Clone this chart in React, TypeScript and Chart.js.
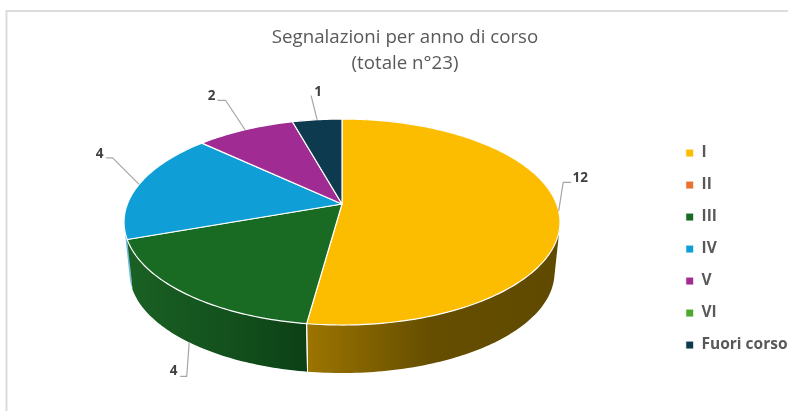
import React, { useEffect, useRef } from "react";
import { Chart, registerables } from "chart.js";

Chart.register(...registerables);

const categories = ["I", "II", "III", "IV", "V", "VI", "Fuori corso"];
const segnalazioni = [12, 0, 4, 4, 2, 0, 1];
const titleLines = ["Segnalazioni per anno di corso", "(totale n°23)"];
const colors = ["#FCBD00", "#E97132", "#196B24", "#0F9ED5", "#A02B93", "#4EA72E", "#0D3A4E"];
const wallLeft = ["#9C7400", "#8A4020", "#1A6024", "#6FB9DC", "#6A1C60", "#2E6A1A", "#082430"];
const wallMid = ["#654E00", "#8A4020", "#124F1C", "#6FB9DC", "#6A1C60", "#2E6A1A", "#082430"];
const wallRight = ["#604A00", "#8A4020", "#0C4016", "#6FB9DC", "#6A1C60", "#2E6A1A", "#082430"];
// label placement relative to the slice's mid-rim anchor: elbow, line end, text centre
const labelOffsets: Record<number, number[]> = {
  0: [4.5, -28.5, 12.5, -28.5, 21.5, -32.5],
  2: [-2.5, 34, -9, 34, -15.5, 29],
  3: [-26.5, -26.5, -33, -26.5, -39.5, -30.5],
  4: [-19.5, -29.5, -27.5, -29.5, -33.5, -33.5],
  6: [-6, -24, -6, -24, 1, -28],
};

// perspective view of the disc
const VIEW = { cx: 342, apexTop: 204, a: 214.6, b: 99.85, k: 0.175, apexBottom: 255, shrink: 0.975 };

const project = (angle: number, bottom: boolean) => {
  const u = Math.cos(angle);
  const v = Math.sin(angle);
  const w = 1 - VIEW.k * v;
  const s = bottom ? VIEW.shrink : 1;
  return {
    x: VIEW.cx + (s * VIEW.a * u) / w,
    y: (bottom ? VIEW.apexBottom : VIEW.apexTop) + (s * VIEW.b * v) / w,
    v,
  };
};

const rim = (a0: number, a1: number, bottom: boolean) => {
  const n = Math.max(2, Math.ceil(((a1 - a0) * 180) / Math.PI));
  const pts = [];
  for (let i = 0; i <= n; i++) pts.push(project(a0 + ((a1 - a0) * i) / n, bottom));
  return pts;
};

const pie3d = {
  id: "pie3d",
  beforeDraw(chart: any) {
    const { ctx, width } = chart;
    ctx.save();
    ctx.strokeStyle = "#DCDCDC";
    ctx.lineWidth = 2;
    ctx.beginPath();
    ctx.moveTo(width - 2, 11);
    ctx.lineTo(6.5, 11);
    ctx.lineTo(6.5, chart.height);
    ctx.stroke();
    ctx.restore();
  },
  beforeDatasetsDraw(chart: any) {
    const { ctx } = chart;
    const arcs = chart
      .getDatasetMeta(0)
      .data.map((arc: any, i: number) => ({ i, a0: arc.startAngle, a1: arc.endAngle }))
      .filter((s: any) => s.a1 - s.a0 > 1e-6);
    ctx.save();
    ctx.lineJoin = "round";

    // side walls, far slices first
    const order = [...arcs].sort(
      (p: any, q: any) => Math.sin((p.a0 + p.a1) / 2) - Math.sin((q.a0 + q.a1) / 2),
    );
    for (const s of order) {
      const top = rim(s.a0, s.a1, false);
      const bot = rim(s.a0, s.a1, true);
      const near = bot.filter((p) => p.v > -0.2);
      if (!near.length) continue;
      const xs = near.map((p) => p.x);
      const g = ctx.createLinearGradient(Math.min(...xs), 0, Math.max(...xs), 0);
      g.addColorStop(0, wallLeft[s.i]);
      g.addColorStop(s.i === 2 ? 0.6 : 0.5, wallMid[s.i]);
      g.addColorStop(1, wallRight[s.i]);
      ctx.beginPath();
      for (let j = 0; j < top.length - 1; j++) {
        const q = [top[j], top[j + 1], bot[j + 1], bot[j]];
        let area = 0;
        q.forEach((p, m) => {
          const r = q[(m + 1) % 4];
          area += p.x * r.y - r.x * p.y;
        });
        if (area < 0) q.reverse();
        ctx.moveTo(q[0].x, q[0].y);
        q.slice(1).forEach((p) => ctx.lineTo(p.x, p.y));
        ctx.closePath();
      }
      ctx.fillStyle = g;
      ctx.fill();
    }

    // white seams on the wall
    ctx.strokeStyle = "#FFFFFF";
    ctx.lineWidth = 1;
    for (const s of arcs) {
      for (const edge of [s.a0, s.a1]) {
        const t = project(edge, false);
        if (t.v < 0.5) continue;
        const b = project(edge, true);
        ctx.beginPath();
        ctx.moveTo(t.x, t.y);
        ctx.lineTo(b.x, b.y);
        ctx.stroke();
      }
    }

    // top faces
    for (const s of arcs) {
      ctx.beginPath();
      ctx.moveTo(VIEW.cx, VIEW.apexTop);
      rim(s.a0, s.a1, false).forEach((p) => ctx.lineTo(p.x, p.y));
      ctx.closePath();
      ctx.fillStyle = colors[s.i];
      ctx.fill();
      ctx.strokeStyle = "#FFFFFF";
      ctx.lineWidth = 1.2;
      ctx.stroke();
    }

    // data labels and leader lines
    ctx.font = "bold 13.5px 'Open Sans'";
    ctx.textAlign = "center";
    ctx.textBaseline = "middle";
    for (const s of arcs) {
      const mid = (s.a0 + s.a1) / 2;
      const midV = Math.sin(mid);
      const anchor = project(mid, midV > 0.3);
      const o = labelOffsets[s.i];
      ctx.strokeStyle = "#A6A6A6";
      ctx.lineWidth = 1.2;
      ctx.beginPath();
      ctx.moveTo(anchor.x, anchor.y);
      ctx.lineTo(anchor.x + o[0], anchor.y + o[1]);
      ctx.lineTo(anchor.x + o[2], anchor.y + o[3]);
      ctx.stroke();
      ctx.fillStyle = "#404040";
      ctx.fillText(String(segnalazioni[s.i]), anchor.x + o[4], anchor.y + o[5]);
    }
    ctx.restore();
    return false;
  },
};

export default function App() {
  const ref = useRef<HTMLCanvasElement>(null);
  useEffect(() => {
    const chart = new Chart(ref.current as HTMLCanvasElement, {
      type: "pie",
      data: {
        labels: categories,
        datasets: [{ data: segnalazioni, backgroundColor: colors, borderColor: "#FFFFFF", borderWidth: 1 }],
      },
      plugins: [pie3d],
      options: {
        responsive: false,
        animation: false,
        layout: { padding: { left: 12.5, right: -7.5, top: 0, bottom: 0 } },
        plugins: {
          tooltip: { enabled: false },
          title: {
            display: true,
            text: titleLines,
            color: "#595959",
            font: { family: "'Open Sans'", size: 18.7, weight: "normal", lineHeight: 1.42 },
            padding: { top: 24, bottom: 10 },
          },
          legend: {
            position: "right",
            fullSize: false,
            labels: {
              boxWidth: 8,
              boxHeight: 8,
              padding: 16.5,
              color: "#595959",
              font: { family: "'Open Sans'", size: 15.5, weight: "bold" },
            },
          },
        },
      },
    } as any);
    return () => chart.destroy();
  }, []);
  return (
    <canvas
      ref={ref}
      width={790}
      height={411}
      style={{ position: "absolute", left: 0, top: 0, display: "block" }}
    />
  );
}
